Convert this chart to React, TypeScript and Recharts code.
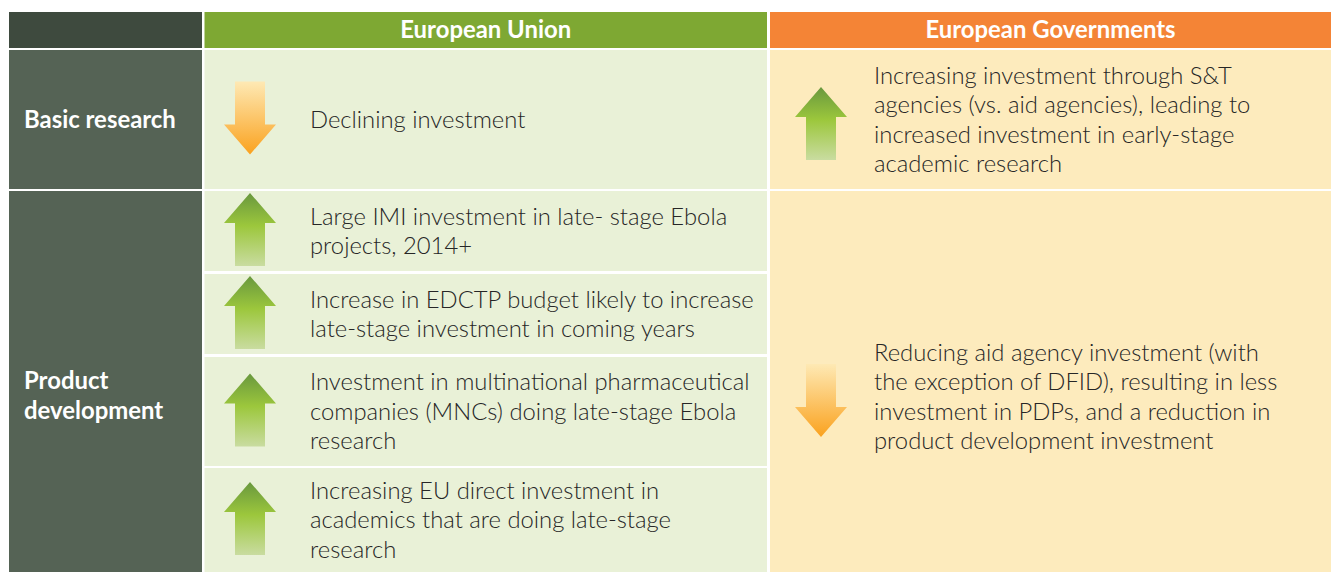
import React from 'react';
import { ComposedChart, Customized, Rectangle } from 'recharts';

// Table content
const columnTitles = ['European Union', 'European Governments'];
const rowLabels = [['Basic research'], ['Product', 'development']];

const euTrends = ['down', 'up', 'up', 'up', 'up'];
const euNotes = [
  ['Declining investment'],
  ['Large IMI investment in late- stage Ebola', 'projects, 2014+'],
  ['Increase in EDCTP budget likely to increase', 'late-stage investment in coming years'],
  ['Investment in multinational pharmaceutical', 'companies (MNCs) doing late-stage Ebola', 'research'],
  ['Increasing EU direct investment in', 'academics that are doing late-stage', 'research'],
];

const govTrends = ['up', 'down'];
const govNotes = [
  ['Increasing investment through S&T', 'agencies (vs. aid agencies), leading to', 'increased investment in early-stage', 'academic research'],
  ['Reducing aid agency investment (with', 'the exception of DFID), resulting in less', 'investment in PDPs, and a reduction in', 'product development investment'],
];

// Layout
const W = 1334;
const H = 572;
const COLS = [
  [9, 202],
  [204.5, 767],
  [770, 1331],
];
const HEAD = [12, 48];
const ROWS = [
  [50, 189],
  [191, 572],
];
const EU_CELLS = [
  [50, 189],
  [191, 271],
  [274, 354],
  [357, 466],
  [468, 572],
];
const GOV_SHIFT = [0, 15];
const LABEL_SHIFT = [0, 14];

const FONT = 'Lato, "Open Sans", sans-serif';
const FS = 23.8;
const FS_BOLD = 23.9;
const LH = 29.5;
const TEXT = '#262626';

const Arrow = ({ cx, cy, dir }: { cx: number; cy: number; dir: string }) => {
  const top = cy - 36.5;
  const bot = cy + 36.5;
  const d =
    dir === 'up'
      ? `M${cx},${top} L${cx + 26},${top + 30} L${cx + 15},${top + 30} L${cx + 15},${bot} L${cx - 15},${bot} L${cx - 15},${top + 30} L${cx - 26},${top + 30} Z`
      : `M${cx - 15},${top} L${cx + 15},${top} L${cx + 15},${bot - 30} L${cx + 26},${bot - 30} L${cx},${bot} L${cx - 26},${bot - 30} L${cx - 15},${bot - 30} Z`;
  return <path d={d} fill={dir === 'up' ? 'url(#gUp)' : 'url(#gDown)'} />;
};

const Lines = ({ x, cy, lines, color = TEXT, weight = 300, size = FS }: any) => {
  const first = cy - ((lines.length - 1) * LH) / 2 + 8.3;
  return (
    <text x={x} fontFamily={FONT} fontSize={size} fill={color} fontWeight={weight}>
      {lines.map((l: string, i: number) => (
        <tspan key={i} x={x} y={first + i * LH}>
          {l}
        </tspan>
      ))}
    </text>
  );
};

const TableLayer = () => (
  <g>
    <defs>
      <linearGradient id="gUp" x1="0" y1="0" x2="0" y2="1">
        <stop offset="0%" stopColor="#69983e" />
        <stop offset="45%" stopColor="#9cc73c" />
        <stop offset="100%" stopColor="#c9dca0" />
      </linearGradient>
      <linearGradient id="gDown" x1="0" y1="0" x2="0" y2="1">
        <stop offset="0%" stopColor="#fee9b4" />
        <stop offset="100%" stopColor="#faa21f" />
      </linearGradient>
    </defs>

    {/* header */}
    <Rectangle x={COLS[0][0]} y={HEAD[0]} width={COLS[0][1] - COLS[0][0]} height={HEAD[1] - HEAD[0]} fill="#3e4a3e" />
    <Rectangle x={COLS[1][0]} y={HEAD[0]} width={COLS[1][1] - COLS[1][0]} height={HEAD[1] - HEAD[0]} fill="#7ea833" />
    <Rectangle x={COLS[2][0]} y={HEAD[0]} width={COLS[2][1] - COLS[2][0]} height={HEAD[1] - HEAD[0]} fill="#f48436" />
    {columnTitles.map((t, i) => (
      <text
        key={t}
        x={(COLS[i + 1][0] + COLS[i + 1][1]) / 2}
        y={(HEAD[0] + HEAD[1]) / 2 + 7.5}
        textAnchor="middle"
        fontFamily={FONT}
        fontSize={FS_BOLD}
        fontWeight={700}
        fill="#ffffff"
      >
        {t}
      </text>
    ))}

    {/* row labels */}
    {rowLabels.map((lab, i) => (
      <g key={i}>
        <Rectangle x={COLS[0][0]} y={ROWS[i][0]} width={COLS[0][1] - COLS[0][0]} height={ROWS[i][1] - ROWS[i][0]} fill="#556355" />
        <Lines x={24} cy={(ROWS[i][0] + ROWS[i][1]) / 2 + LABEL_SHIFT[i]} lines={lab} color="#ffffff" weight={700} size={FS_BOLD} />
      </g>
    ))}

    {/* European Union */}
    {euNotes.map((lines, i) => {
      const [y0, y1] = EU_CELLS[i];
      const cy = (y0 + y1) / 2;
      return (
        <g key={i}>
          <Rectangle x={COLS[1][0]} y={y0} width={COLS[1][1] - COLS[1][0]} height={y1 - y0} fill="#e9f1d7" />
          <Arrow cx={250} cy={cy - 1.5} dir={euTrends[i]} />
          <Lines x={310} cy={cy} lines={lines} />
        </g>
      );
    })}

    {/* European Governments */}
    {govNotes.map((lines, i) => {
      const [y0, y1] = ROWS[i];
      const cy = (y0 + y1) / 2 + GOV_SHIFT[i];
      return (
        <g key={i}>
          <Rectangle x={COLS[2][0]} y={y0} width={COLS[2][1] - COLS[2][0]} height={y1 - y0} fill="#fdebbd" />
          <Arrow cx={821} cy={cy + 4} dir={govTrends[i]} />
          <Lines x={874} cy={cy} lines={lines} />
        </g>
      );
    })}
  </g>
);

export default function App() {
  return (
    <div style={{ width: W, height: H }}>
      <style>{'body{margin:0;background:#fff}'}</style>
      <ComposedChart width={W} height={H} data={euTrends.map((t, i) => ({ i, t }))} margin={{ top: 0, right: 0, bottom: 0, left: 0 }}>
        <Customized component={<TableLayer />} />
      </ComposedChart>
    </div>
  );
}
